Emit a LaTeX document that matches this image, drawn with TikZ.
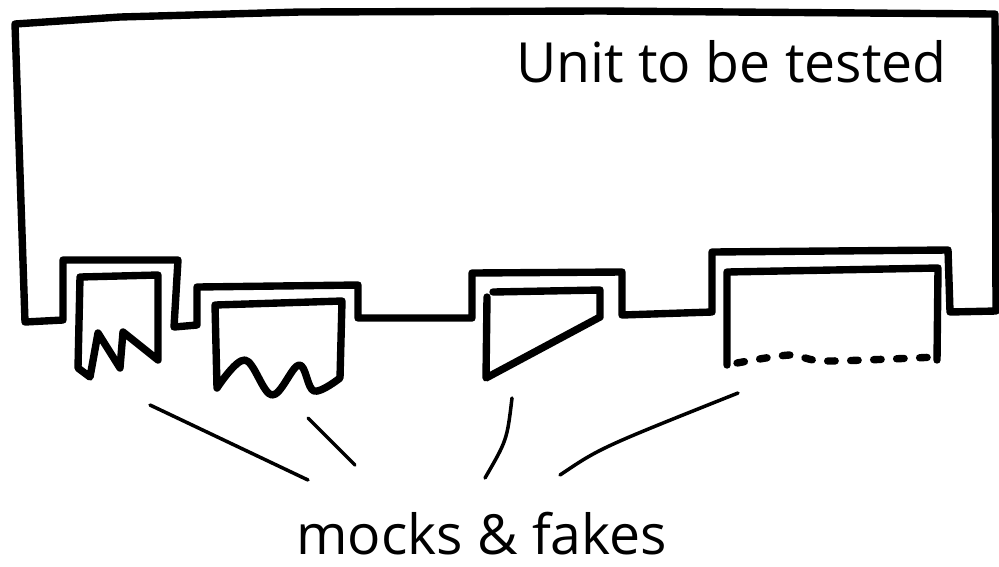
\documentclass[tikz,border=0pt]{standalone}
\usepackage{fontspec}
\setmainfont{Open Sans}
\usepackage{tikz}
\usetikzlibrary{positioning}

\begin{document}
\begin{tikzpicture}[
    x=0.02cm, y=-0.02cm,
    pen/.style={line width=4.2pt, line join=round, line cap=round},
    lead/.style={line width=2pt, line cap=round},
    caption/.style={font=\fontsize{31.5}{38}\selectfont, inner sep=0pt}
]
\useasboundingbox (0,0) rectangle (999,566);

% the unit, with four sockets cut into its bottom edge
\draw[pen] (15,24) -- (120,17) -- (300,12) -- (600,11) -- (995,14) -- (996,311)
    -- (950,312) -- (948,250) -- (712,252) -- (712,312)
    -- (622,315) -- (622,272) -- (472,273) -- (472,318)
    -- (358,318) -- (358,285) -- (197,287) -- (197,325)
    -- (174,327) -- (178,260) -- (63,260) -- (63,320)
    -- (25,322) -- cycle;
\node[caption, anchor=base east] (unit) at (947,82) {Unit to be tested};

% mocks plugged into the sockets
\draw[pen] (80,277) -- (158,275) -- (158,360) -- (123,332) -- (120,368)
    -- (98,333) -- (90,377) -- (78,368) -- cycle;
\draw[pen] (342,301) -- (215,305) -- (217,388)
    -- plot[smooth, tension=0.6] coordinates {(217,388) (245,360) (272,395)
       (299,365) (314,391) (340,378)} -- cycle;
\draw[pen] (493,292) -- (600,290) -- (600,317) -- (486,378) -- (487,297);
\draw[pen] (727,365) -- (727,272) -- (938,268) -- (937,360);
\draw[pen, dash pattern=on 0.15cm off 0.31cm]
    plot[smooth] coordinates {(737,363) (790,355) (825,361) (936,357)};

% label and its leads
\node[caption, anchor=base west] (mocks) at (296,554) {mocks \& fakes};
\coordinate (lead1 top) at (150,405);
\coordinate (lead1 end) at (308,480);
\coordinate (lead2 top) at (308,418);
\coordinate (lead2 end) at (355,465);
\coordinate (lead3 top) at (512,398);
\coordinate (lead3 end) at (485,478);
\coordinate (lead4 top) at (738,393);
\coordinate (lead4 end) at (560,475);
\draw[lead] (lead1 top) -- (lead1 end);
\draw[lead] (lead2 top) -- (lead2 end);
\draw[lead] (lead3 top) .. controls (507,440) .. (lead3 end);
\draw[lead] (lead4 top) .. controls (600,448) .. (lead4 end);

\end{tikzpicture}
\end{document}
